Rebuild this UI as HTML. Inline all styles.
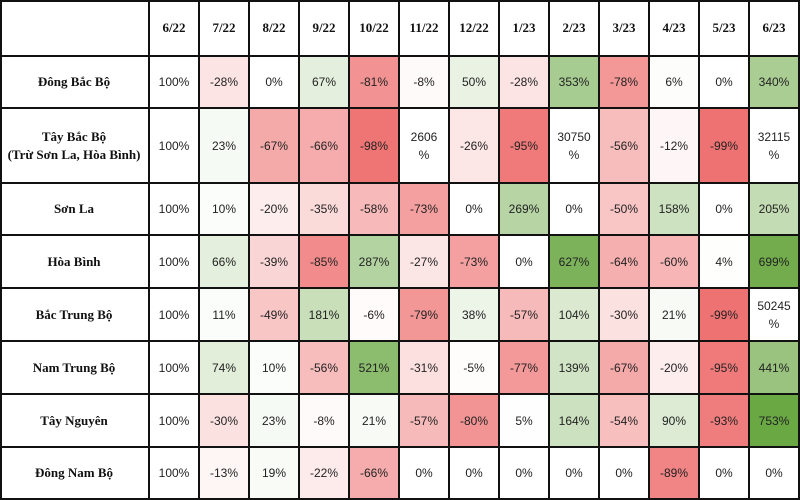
<!DOCTYPE html>
<html><head><meta charset="utf-8">
<style>
html,body{margin:0;padding:0;background:#fff;}
#tbl{position:relative;width:800px;height:500px;overflow:hidden;}
.c{position:absolute;box-sizing:border-box;display:flex;align-items:center;justify-content:center;text-align:center;border-right:2px solid #111;border-bottom:2px solid #111;font-family:"Liberation Sans",sans-serif;font-size:12px;color:#222;line-height:18px;}
.h{font-family:"Liberation Serif",serif;font-weight:bold;font-size:13px;color:#111;}
</style></head>
<body>
<div id="tbl"></div>
<script>
const months = ["6/22","7/22","8/22","9/22","10/22","11/22","12/22","1/23","2/23","3/23","4/23","5/23","6/23"];
const regions = ["Đông Bắc Bộ","Tây Bắc Bộ<br>(Trừ Sơn La, Hòa Bình)","Sơn La","Hòa Bình","Bắc Trung Bộ","Nam Trung Bộ","Tây Nguyên","Đông Nam Bộ"];
const rowDongBac = [100,-28,0,67,-81,-8,50,-28,353,-78,6,0,340];
const rowTayBac = [100,23,-67,-66,-98,"2606",-26,-95,"30750",-56,-12,-99,"32115"];
const rowSonLa = [100,10,-20,-35,-58,-73,0,269,0,-50,158,0,205];
const rowHoaBinh = [100,66,-39,-85,287,-27,-73,0,627,-64,-60,4,699];
const rowBacTrung = [100,11,-49,181,-6,-79,38,-57,104,-30,21,-99,"50245"];
const rowNamTrung = [100,74,10,-56,521,-31,-5,-77,139,-67,-20,-95,441];
const rowTayNguyen = [100,-30,23,-8,21,-57,-80,5,164,-54,90,-93,753];
const rowDongNam = [100,-13,19,-22,-66,0,0,0,0,0,-89,0,0];
const rows = [rowDongBac,rowTayBac,rowSonLa,rowHoaBinh,rowBacTrung,rowNamTrung,rowTayNguyen,rowDongNam];

const rowEdges = [0,57,109,184,236,289,342,395,448,500];
const colX = i => i===0 ? 0 : 150 + (i-1)*50;

function mix(t, r,g,b){
  t=Math.max(0,Math.min(1,t));
  return `rgb(${Math.round(255-t*(255-r))},${Math.round(255-t*(255-g))},${Math.round(255-t*(255-b))})`;
}
function color(v, ci){
  if (typeof v === "string" || ci===0) return "#fff";
  if (v < 0) return mix(Math.pow(-v/100,1.3), 239,112,112);
  if (v <= 25) return mix(v/400, 106,168,68);
  return mix(Math.pow(v/753,0.7), 106,168,68);
}
const tbl = document.getElementById('tbl');
function cell(x,y,w,h,html,cls,bg,name){
  const d=document.createElement('div');
  d.className='c '+cls;
  d.style.left=x+'px';d.style.top=y+'px';d.style.width=w+'px';d.style.height=h+'px';
  d.style.background=bg;
  d.innerHTML=html;
  
  
  tbl.appendChild(d);
}
cell(0,0,150,rowEdges[1],'','h','#fff','header-corner');
months.forEach((m,i)=>{
  cell(colX(i+1),0,50,rowEdges[1],m,'h','#fff','header-'+m.replace('/','-'));
});
rows.forEach((r,ri)=>{
  const y=rowEdges[ri+1], h=rowEdges[ri+2]-y;
  cell(0,y,150,h,regions[ri],'h','#fff','row-label-'+ri);
  r.forEach((v,ci)=>{
    const txt = typeof v==="string" ? v+"<br>%" : v+"%";
    cell(colX(ci+1),y,50,h,txt,'',color(v,ci),'cell-r'+ri+'-c'+ci);
  });
});
const f=document.createElement('div');


f.style.cssText='position:absolute;left:0;top:0;width:800px;height:500px;box-sizing:border-box;border:2px solid #111;pointer-events:none;';
tbl.appendChild(f);
</script>
</body></html>
